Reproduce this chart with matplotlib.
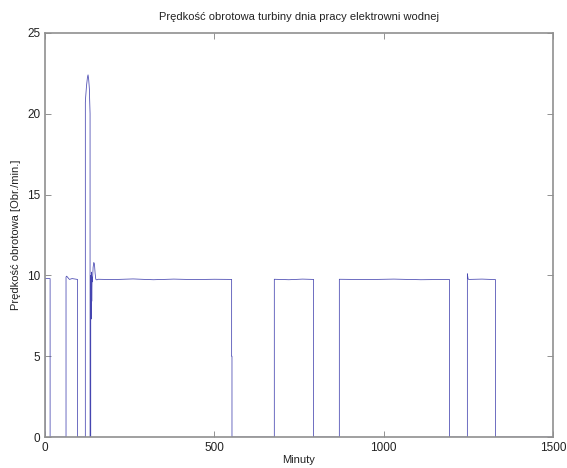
import matplotlib.pyplot as plt

plt.rcParams['font.family'] = ['Liberation Sans', 'DejaVu Sans']

# czas [min] i predkosc obrotowa [obr./min.]
minuty = [0, 0, 15, 15, 62, 62, 64, 68, 72, 80, 96, 96,
          119, 119, 122, 125, 127, 129, 131, 133, 133,
          135, 135, 136, 137, 138, 139, 140, 142, 144, 146, 148, 150, 153, 157,
          200, 260, 320, 380, 440, 500, 551, 551, 552, 552,
          677, 677, 720, 760, 793, 793,
          869, 869, 950, 1030, 1110, 1194, 1194,
          1247, 1247, 1249, 1251, 1290, 1330, 1330, 1500]
predkosc = [0, 9.8, 9.8, 0, 0, 9.9, 9.95, 9.85, 9.75, 9.8, 9.75, 0,
            0, 20.7, 21.6, 22.2, 22.4, 22.1, 21.5, 20.0, 0,
            0, 10.0, 7.3, 10.2, 8.4, 9.9, 9.6, 10.5, 10.8, 10.7, 10.1, 9.75, 9.72, 9.76,
            9.74, 9.78, 9.73, 9.77, 9.74, 9.76, 9.75, 5.0, 5.0, 0,
            0, 9.76, 9.73, 9.77, 9.75, 0,
            0, 9.76, 9.74, 9.77, 9.73, 9.75, 0,
            0, 10.1, 9.8, 9.75, 9.77, 9.74, 0, 0]

plt.figure(figsize=(5.67, 4.68), dpi=100)
ax = plt.axes([0.0794, 0.066, 0.896, 0.864])
ax.plot(minuty, predkosc, color='#4545b0', linewidth=0.55, snap=False)

ax.set_xlim(0, 1500)
ax.set_ylim(0, 25)
ax.set_xticks([0, 500, 1000, 1500])
ax.set_yticks([0, 5, 10, 15, 20, 25])
ax.tick_params(direction='in', top=True, right=True, length=4, width=0.6,
               colors='#808080', labelcolor='#222222', labelsize=8.5)
for s in ax.spines.values():
    s.set_color('#909090')
    s.set_linewidth(1.2)
    s.set_zorder(3)

ax.set_title('Prędkość obrotowa turbiny dnia pracy elektrowni wodnej', fontsize=8, color='#222222', pad=9)
ax.set_xlabel('Minuty', fontsize=8, color='#222222', labelpad=1)
ax.set_ylabel('Prędkość obrotowa [Obr./min.]', fontsize=8, color='#222222', labelpad=4)

plt.savefig('out.png', dpi=100)
